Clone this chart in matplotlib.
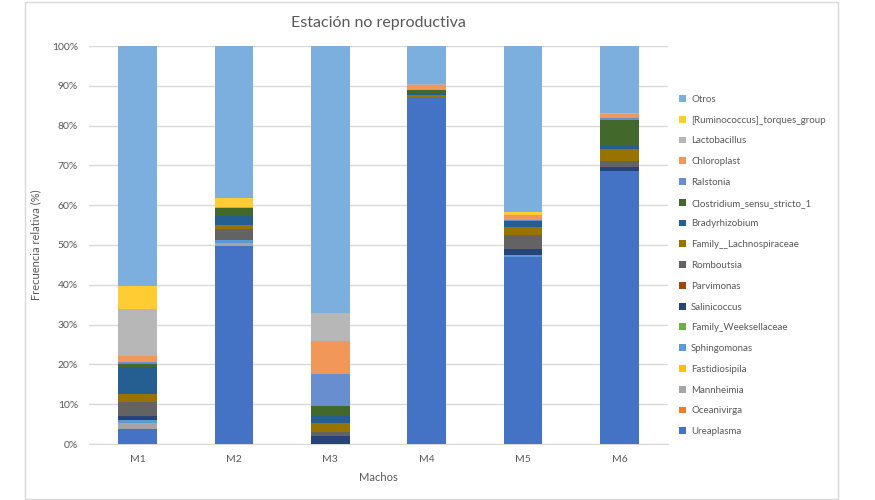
import matplotlib.pyplot as plt
import numpy as np
from matplotlib.patches import Rectangle

plt.rcParams['font.family'] = ['Lato', 'DejaVu Sans']

# Categories (males) and taxa, bottom to top
machos = ['M1', 'M2', 'M3', 'M4', 'M5', 'M6']
taxa = ['Ureaplasma', 'Oceanivirga', 'Mannheimia', 'Fastidiosipila', 'Sphingomonas',
        'Family_Weeksellaceae', 'Salinicoccus', 'Parvimonas', 'Romboutsia',
        'Family__Lachnospiraceae', 'Bradyrhizobium', 'Clostridium_sensu_stricto_1',
        'Ralstonia', 'Chloroplast', 'Lactobacillus', '[Ruminococcus]_torques_group', 'Otros']

# Relative frequency (%) per taxon, values for M1..M6
ureaplasma = [3.7, 49.8, 0.0, 87.1, 47.1, 68.5]
oceanivirga = [0.0, 0.0, 0.0, 0.0, 0.0, 0.0]
mannheimia = [1.7, 0.8, 0.0, 0.0, 0.0, 0.0]
fastidiosipila = [0.0, 0.0, 0.0, 0.0, 0.0, 0.0]
sphingomonas = [0.6, 0.6, 0.0, 0.0, 0.4, 0.0]
weeksellaceae = [0.0, 0.0, 0.0, 0.0, 0.0, 0.0]
salinicoccus = [1.1, 0.1, 2.0, 0.0, 1.4, 1.2]
parvimonas = [0.0, 0.0, 0.0, 0.0, 0.0, 0.0]
romboutsia = [3.5, 2.6, 1.0, 0.2, 3.7, 1.5]
lachnospiraceae = [2.0, 1.1, 2.2, 0.3, 1.8, 2.8]
bradyrhizobium = [6.7, 2.4, 1.8, 0.6, 1.7, 0.8]
clostridium = [0.8, 1.8, 2.5, 0.7, 0.0, 6.7]
ralstonia = [0.5, 0.0, 8.2, 0.0, 0.3, 0.4]
chloroplast = [1.6, 0.4, 8.1, 1.2, 1.2, 1.1]
lactobacillus = [11.7, 0.0, 7.0, 0.4, 0.0, 0.2]
ruminococcus = [5.8, 2.3, 0.2, 0.0, 0.6, 0.0]
otros = [60.3, 38.1, 67.0, 9.5, 41.8, 16.8]

series = [ureaplasma, oceanivirga, mannheimia, fastidiosipila, sphingomonas,
          weeksellaceae, salinicoccus, parvimonas, romboutsia, lachnospiraceae,
          bradyrhizobium, clostridium, ralstonia, chloroplast, lactobacillus,
          ruminococcus, otros]

colors = ['#4472C4', '#ED7D31', '#A5A5A5', '#FFC000', '#5B9BD5', '#70AD47',
          '#264478', '#9E480E', '#636363', '#997300', '#255E91', '#43682B',
          '#698ED0', '#F1975A', '#B7B7B7', '#FFCD33', '#7CAFDD']

fig = plt.figure(figsize=(8.75, 5), dpi=100)
ax = fig.add_axes([0.102, 0.112, 0.661, 0.796])

x = np.arange(len(machos))
bottom = np.zeros(len(machos))
handles = []
for name, vals, col in zip(taxa, series, colors):
    vals = np.array(vals)
    b = ax.bar(x, vals, 0.4, bottom=bottom, color=col, label=name, zorder=3)
    handles.append(b)
    bottom += vals

ax.set_xlim(-0.5, len(machos) - 0.5)
ax.set_ylim(0, 100)
ax.set_yticks(np.arange(0, 101, 10))
ax.set_yticklabels([f'{v}%' for v in range(0, 101, 10)])
ax.set_xticks(x)
ax.set_xticklabels(machos)
ax.yaxis.grid(True, color='#D9D9D9', linewidth=1, zorder=0)
ax.tick_params(length=0, colors='#595959', labelsize=7.5, pad=8)
for s in ['top', 'right', 'left']:
    ax.spines[s].set_visible(False)
ax.spines['bottom'].set_color('#D9D9D9')

ax.set_title('Estación no reproductiva', fontsize=11.5, color='#595959', pad=14)
ax.set_xlabel('Machos', fontsize=8, color='#595959', labelpad=6)
ax.set_ylabel('Frecuencia relativa (%)', fontsize=8, color='#595959', labelpad=8)

leg = fig.legend(handles[::-1], taxa[::-1], loc='upper left', bbox_to_anchor=(0.772, 0.818),
                 frameon=False, fontsize=7, handlelength=0.7, handleheight=0.7,
                 handletextpad=0.5, labelspacing=1.21, borderaxespad=0)
for t in leg.get_texts():
    t.set_color('#595959')

fig.patches.append(Rectangle((25 / 875, 1 / 500), 813 / 875, 497 / 500, transform=fig.transFigure,
                             fill=False, edgecolor='#D9D9D9', linewidth=1))

fig.savefig('out.png', dpi=100)
